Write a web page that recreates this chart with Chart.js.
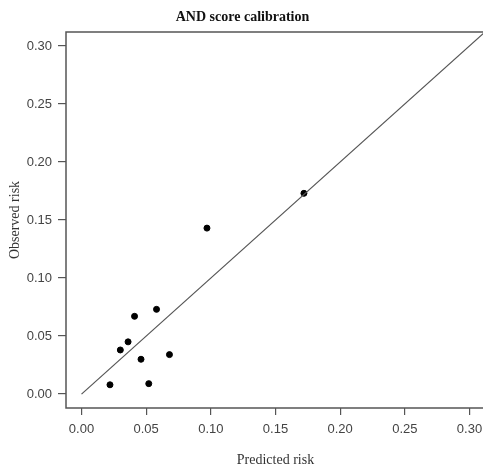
<!DOCTYPE html>
<html>
<head>
<meta charset="utf-8">
<script src="https://cdn.jsdelivr.net/npm/chart.js@4"></script>
<style>
  html, body { margin: 0; padding: 0; background: #fff; overflow: hidden; }
  #wrap { width: 576px; height: 467px; }
</style>
</head>
<body>
<div id="wrap"><canvas id="calib"></canvas></div>
<script>
const predicted = [0.022, 0.052, 0.030, 0.036, 0.046, 0.068, 0.041, 0.058, 0.097, 0.172]
const observed = [0.008, 0.009, 0.038, 0.045, 0.030, 0.034, 0.067, 0.073, 0.143, 0.173]
const identityLine = [0, 0.32]
const tickValues = [0, 0.05, 0.10, 0.15, 0.20, 0.25, 0.30]

const boxPlugin = {
  id: 'plotBox',
  afterDatasetsDraw: (chart) => {
    const {ctx, chartArea} = chart
    ctx.save()
    ctx.strokeStyle = '#555'
    ctx.lineWidth = 1.5
    ctx.strokeRect(chartArea.left, chartArea.top, chartArea.right - chartArea.left, chartArea.bottom - chartArea.top)
    ctx.restore()
  }
}

const setTicks = (axis) => {
  axis.ticks = tickValues.map((v) => ({ value: v }))
}

const tickFont = { family: 'Liberation Sans, Arial, sans-serif', size: 13 }
const titleFont = { family: 'Liberation Serif, Times New Roman, serif', size: 14 }

new Chart(document.getElementById('calib'), {
  type: 'scatter',
  data: {
    datasets: [
      {
        type: 'line',
        data: identityLine.map((v) => ({ x: v, y: v })),
        borderColor: '#555',
        borderWidth: 1.2,
        pointRadius: 0,
        fill: false
      },
      {
        data: predicted.map((x, i) => ({ x: x, y: observed[i] })),
        backgroundColor: '#000',
        borderColor: '#000',
        pointRadius: 3,
        pointHoverRadius: 3
      }
    ]
  },
  options: {
    responsive: true,
    maintainAspectRatio: false,
    animation: false,
    layout: { padding: { left: 0, right: 91, top: 0, bottom: 0 } },
    plugins: {
      legend: { display: false },
      tooltip: { enabled: false },
      title: {
        display: true,
        text: 'AND score calibration',
        color: '#111',
        font: { family: 'Liberation Serif, Times New Roman, serif', size: 14, weight: 'bold', lineHeight: 1.2 },
        padding: { top: 9, bottom: 6.2 }
      }
    },
    scales: {
      x: {
        type: 'linear',
        min: -0.012,
        max: 0.312,
        afterBuildTicks: setTicks,
        afterFit: (axis) => { axis.height = 59 },
        border: { display: false },
        grid: { drawOnChartArea: false, drawTicks: true, tickLength: 7, color: '#555', lineWidth: 1.2 },
        ticks: { color: '#444', font: tickFont, padding: 7, maxRotation: 0, callback: (v) => v.toFixed(2) },
        title: { display: true, text: 'Predicted risk', color: '#333', font: { ...titleFont, lineHeight: 1 }, padding: { top: 0, bottom: 0 } }
      },
      y: {
        type: 'linear',
        min: -0.012,
        max: 0.312,
        afterBuildTicks: setTicks,
        afterFit: (axis) => { axis.width = 66 },
        border: { display: false },
        grid: { drawOnChartArea: false, drawTicks: true, tickLength: 8, color: '#555', lineWidth: 1.2 },
        ticks: { color: '#444', font: tickFont, padding: 6, callback: (v) => v.toFixed(2) },
        title: { display: true, text: 'Observed risk', color: '#333', font: { ...titleFont, lineHeight: 1.2 }, padding: { top: 7, bottom: 0 } }
      }
    }
  },
  plugins: [boxPlugin]
})
</script>
</body>
</html>
